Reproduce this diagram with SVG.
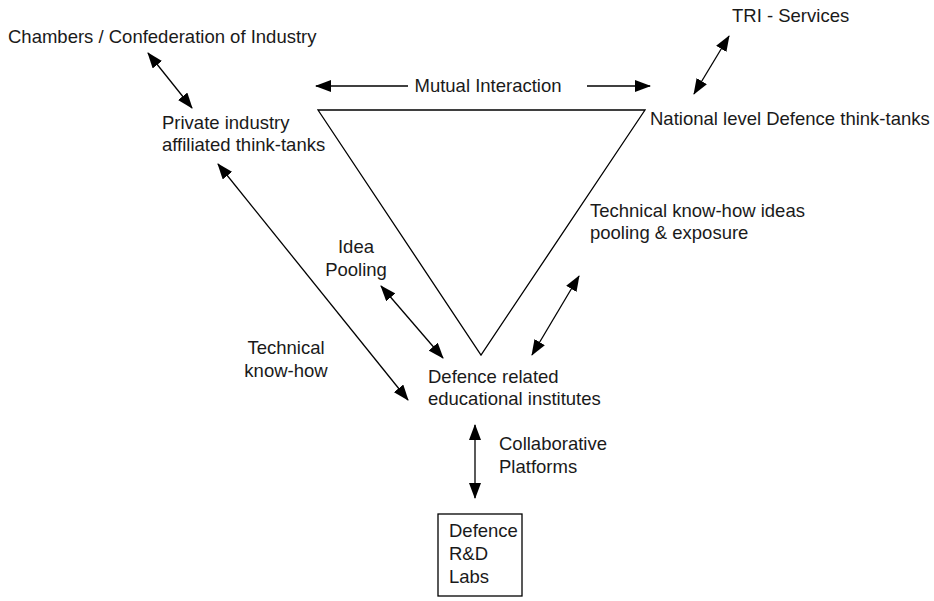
<svg xmlns="http://www.w3.org/2000/svg" width="934" height="601" viewBox="0 0 934 601">
<defs>
<style>
text{font-family:"Liberation Sans",Arial,sans-serif;font-size:18.5px;fill:#1a1a1a}
.c{stroke:#000;stroke-width:1.3;fill:none;marker-start:url(#ah);marker-end:url(#ah)}
.s{stroke:#000;stroke-width:1.3;fill:none;marker-end:url(#ah)}
.m{text-anchor:middle}
</style>
<marker id="ah" viewBox="0 0 16 12" refX="15" refY="6" markerWidth="16" markerHeight="12" markerUnits="userSpaceOnUse" orient="auto-start-reverse">
<path d="M0,0 L16,6 L0,12 z" fill="#000"/>
</marker>
</defs>
<rect width="934" height="601" fill="#fff"/>
<g id="triangle"><path d="M318,110 L645,110 L481,355 Z" fill="none" stroke="#000" stroke-width="1.3"/></g>
<g id="chambers"><text x="8" y="43">Chambers / Confederation of Industry</text></g>
<g id="private"><text x="162" y="129">Private industry</text><text x="162" y="151">affiliated think-tanks</text></g>
<g id="tri"><text x="732" y="22">TRI - Services</text></g>
<g id="national"><text x="650" y="125">National level Defence think-tanks</text></g>
<g id="edu"><text x="428" y="383">Defence related</text><text x="428" y="405">educational institutes</text></g>
<g id="labs"><rect x="438" y="514" width="84" height="82" fill="#fff" stroke="#000" stroke-width="1.3"/><text x="449" y="537">Defence</text><text x="449" y="560">R&amp;D</text><text x="449" y="583">Labs</text></g>
<g id="connectors">
<line class="c" x1="148" y1="53" x2="192" y2="108"/>
<line class="s" x1="408" y1="86" x2="316" y2="86"/>
<line class="s" x1="587" y1="86" x2="650" y2="86"/>
<line class="c" x1="729" y1="36" x2="694" y2="94"/>
<line class="c" x1="218" y1="164" x2="408" y2="400"/>
<line class="c" x1="381" y1="286" x2="443" y2="358"/>
<line class="c" x1="579" y1="276" x2="532" y2="355"/>
<line class="c" x1="475" y1="425" x2="475" y2="498"/>
</g>
<g id="labels">
<text x="488" y="92" class="m">Mutual Interaction</text>
<text x="356" y="253" class="m">Idea</text><text x="356" y="276" class="m">Pooling</text>
<text x="286" y="354" class="m">Technical</text><text x="286" y="377" class="m">know-how</text>
<text x="590" y="217">Technical know-how ideas</text><text x="590" y="239">pooling &amp; exposure</text>
<text x="499" y="450">Collaborative</text><text x="499" y="473">Platforms</text>
</g>
</svg>
